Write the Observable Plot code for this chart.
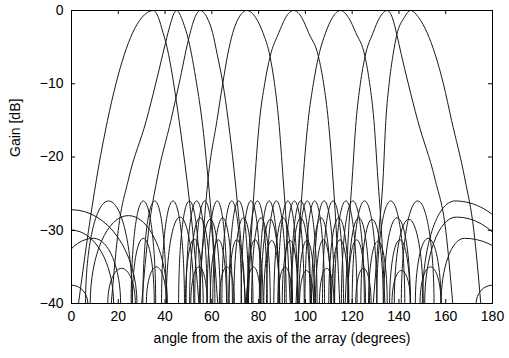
<!DOCTYPE html>
<html>
<head>
<meta charset="utf-8">
<script src="https://cdn.jsdelivr.net/npm/d3@7"></script>
<script src="https://cdn.jsdelivr.net/npm/@observablehq/plot@0.6"></script>
<style>
  html, body { margin: 0; padding: 0; background: #fff; }
  #chart { width: 509px; height: 358px; }
</style>
</head>
<body>
<div id="chart"></div>
<script>
// ---- tick labels ----
const xTicks = [0, 20, 40, 60, 80, 100, 120, 140, 160, 180];
const yTicks = [0, -10, -20, -30, -40];

// ---- main beams: [angle (deg), gain (dB)] ----
const beam35 = [[3,-40],[7.3,-30],[10.7,-23],[15.4,-15],[19,-10],[22.6,-6],[26.2,-3],[30,-1],[35,0],[37.2,-1],[39.1,-3],[40.3,-4.3],[41.5,-6],[43.7,-10],[46,-15],[49.3,-23],[51.8,-30],[54.5,-40]];
const beam45 = [[17,-40],[20,-30],[24.4,-23],[32,-15],[36,-10],[39,-6],[40.3,-4.3],[41.3,-3],[42.6,-1.5],[43.8,-0.4],[45,0],[46.3,-0.5],[47.6,-1.5],[50,-4],[53.5,-10],[55.8,-15],[58.4,-23],[60.3,-30],[62.5,-40]];
const beam55 = [[30,-40],[33,-30],[36.6,-23],[42.5,-15],[46,-10],[50,-4],[52.7,-1],[55,0],[58,-1],[60.3,-3],[62.3,-6],[64.7,-9.9],[67,-15],[69.9,-23],[72,-30],[74.5,-40]];
const beam75 = [[54.5,-40],[56.5,-30],[58.4,-23],[62.2,-15],[64.7,-9.9],[66.8,-6],[69,-3],[71.5,-1],[75,0],[78.8,-1],[81.8,-3],[84.9,-6.3],[86.8,-10],[88.6,-15],[90.5,-23],[92,-30],[93.5,-40]];
const beam95 = [[75.5,-40],[77,-30],[78.4,-23],[80.4,-15],[82.6,-10],[84.9,-6.3],[88.7,-3],[90,-2],[91.5,-1],[95,0],[98.5,-1],[100,-2],[101.3,-3],[105.6,-6.3],[107.8,-10],[109.8,-15],[111.8,-23],[113.2,-30],[114.7,-40]];
const beam115 = [[96,-40],[97.5,-30],[99,-23],[101.2,-15],[103.4,-10],[105.6,-6.3],[108.7,-3],[111.5,-1],[115,0],[118.5,-1],[121.5,-3],[125.5,-6.3],[127.5,-10],[129.3,-15],[131,-23],[132.5,-30],[134,-40]];
const beam135 = [[117,-40],[118.5,-30],[120,-23],[121.7,-15],[123.5,-10],[125.5,-6.3],[129,-3],[131.7,-1],[135,0],[137.2,-1],[139.1,-3.3],[141,-6],[144,-10],[148,-15],[155.4,-23],[160,-30],[163,-40]];
const beam145 = [[129,-40],[131.5,-30],[133.2,-23],[134.4,-15],[135.8,-10],[137.5,-6],[139.1,-3.3],[142.2,-1],[145,0],[148.5,-1],[152,-3],[155.5,-6],[159,-10],[162.5,-15],[168.2,-23],[172,-30],[175,-40]];

// ---- side lobes: [left -40 dB crossing, peak angle, peak dB, right -40 dB crossing] ----
const lobesTop = [[6,15.8,-26,26],[25.5,30.7,-26,36],[30.5,35.6,-26,40.5],[38.5,43.4,-26,48.3],[45.8,50.4,-26,55],[49,53.5,-26,58],[52.7,57,-26,61.3],[58,62.3,-26,66.5],[64.3,68.5,-26,72.7],[67.3,71.5,-26,75.7],[72.5,76.7,-26,80.9],[75.3,79.5,-26,83.7],[80.3,84.5,-26,88.7],[83.4,87.6,-26,91.8],[88.3,92.5,-26,96.7],[91.1,95.3,-26,99.5],[93.8,98,-26,102.2],[96.6,100.8,-26,105],[99.8,104,-26,108.2],[103.6,108,-26,112.4],[107.3,111.8,-26,116.3],[112.5,117.3,-26,122.1],[115.4,120.3,-26,125.2],[120,125.3,-26,130.6],[130.5,136.5,-26,142.5],[141,148,-26,155],[150,164,-26,196]];
const lobesSecond = [[8,24.3,-28,41],[40.5,46.4,-28.2,52.3],[50.5,55,-28.3,59.5],[55,59.3,-28.5,63.6],[60.4,64.6,-28.3,68.8],[69.4,73.5,-28.3,77.6],[77,81,-28.3,85],[81,85,-28.5,89],[86.5,90.5,-28.3,94.5],[94,98,-28.3,102],[102.6,106.7,-28.3,110.8],[110,114.3,-28.3,118.6],[118.2,122.8,-28.3,127.4],[123.7,128.5,-28.5,133.3],[133.5,139.2,-28.3,144.9],[138,144.2,-28.5,150.4],[151,164.5,-28.2,192]];
const lobesThird = [[-8,9.4,-31.1,21],[26,30.7,-31.1,35.4],[48.7,52.5,-31.2,56.3],[59.3,62.8,-31.3,66.3],[67.3,70.7,-31.3,74.1],[75.1,78.5,-31.3,81.9],[82.2,85.6,-31.4,89],[90.1,93.5,-31.4,96.9],[97.2,100.6,-31.4,104],[104.3,107.7,-31.3,111.1],[111.2,114.8,-31.3,118.4],[118.1,121.9,-31.3,125.7],[127,131,-31.5,135],[136,140.4,-31.3,144.8],[147,152.5,-31.1,158],[158,168,-31.1,194]];
const lobesFourth = [[15.5,21.4,-35.2,27.3],[32,36.3,-35,40.6],[51,54.5,-35,58],[63.2,66.4,-35,69.6],[74.8,77.8,-35,80.8],[88.3,91.3,-35,94.3],[97.5,100.5,-35.5,103.5],[106,109.1,-35.2,112.2],[121.5,124.8,-35.2,128.1],[137,141,-35.5,145],[149,153.5,-35,158]];
const lobesEdge = [[-28,0,-27.2,28],[-18,0,-30,18],[-7,0,-37.5,7],[173,180,-37.5,187]];

// ---- build tables for the library ----
const beams = [beam35, beam45, beam55, beam75, beam95, beam115, beam135, beam145];
const beamRows = beams.flatMap((b, i) => b.map(([a, g]) => ({id: "b" + i, a, g})));
const lobes = [...lobesTop, ...lobesSecond, ...lobesThird, ...lobesFourth, ...lobesEdge];
const lobeRows = lobes.flatMap(([l, p, g, r], i) => [
  {id: "s" + i, a: l, g: -40}, {id: "s" + i, a: p, g}, {id: "s" + i, a: r, g: -40}
]);

// arch rendering: vertical tangent at the low end, horizontal tangent at the high end
function archCurve(context) {
  let pts = [];
  return {
    areaStart() {}, areaEnd() {},
    lineStart() { pts = []; },
    point(x, y) { pts.push([+x, +y]); },
    lineEnd() {
      if (!pts.length) return;
      const k = 0.5523;
      context.moveTo(pts[0][0], pts[0][1]);
      for (let i = 1; i < pts.length; i++) {
        const [x0, y0] = pts[i - 1], [x1, y1] = pts[i];
        if (y1 < y0) context.bezierCurveTo(x0, y0 + (y1 - y0) * k, x1 - (x1 - x0) * k, y1, x1, y1);
        else context.bezierCurveTo(x0 + (x1 - x0) * k, y0, x1, y1 - (y1 - y0) * k, x1, y1);
      }
    }
  };
}

const ink = "#1a1a1a";
const chart = Plot.plot({
  width: 509,
  height: 358,
  marginLeft: 71,
  marginRight: 17,
  marginTop: 10,
  marginBottom: 55,
  style: {fontFamily: "'Liberation Sans', Arial, Helvetica, sans-serif", fontSize: "13.5px", background: "#fff", color: "#000"},
  x: {domain: [0, 180]},
  y: {domain: [-40, 0]},
  marks: [
    Plot.line(lobeRows, {x: "a", y: "g", z: "id", curve: archCurve, stroke: ink, strokeWidth: 1, clip: true}),
    Plot.line(beamRows, {x: "a", y: "g", z: "id", curve: "monotone-x", stroke: ink, strokeWidth: 1, clip: true}),
    Plot.frame({stroke: "#000", strokeWidth: 1}),
    Plot.ruleX(xTicks.slice(1, -1), {x: d => d, y1: -40, y2: -39.45, stroke: "#000"}),
    Plot.ruleX(xTicks.slice(1, -1), {x: d => d, y1: 0, y2: -0.55, stroke: "#000"}),
    Plot.ruleY(yTicks.slice(1, -1), {y: d => d, x1: 0, x2: 1.7, stroke: "#000"}),
    Plot.ruleY(yTicks.slice(1, -1), {y: d => d, x1: 180, x2: 178.3, stroke: "#000"}),
    Plot.axisX(xTicks, {tickSize: 0, tickPadding: 8, label: null, fontSize: 14}),
    Plot.axisY(yTicks, {tickSize: 0, tickPadding: 8, label: null, fontSize: 14}),
    Plot.text(["angle from the axis of the array (degrees)"], {frameAnchor: "bottom", dy: 39, text: d => d, fontSize: 14}),
    Plot.text(["Gain [dB]"], {frameAnchor: "left", dx: -56, rotate: -90, text: d => d, fontSize: 14})
  ]
});
document.getElementById("chart").appendChild(chart);
</script>
</body>
</html>
